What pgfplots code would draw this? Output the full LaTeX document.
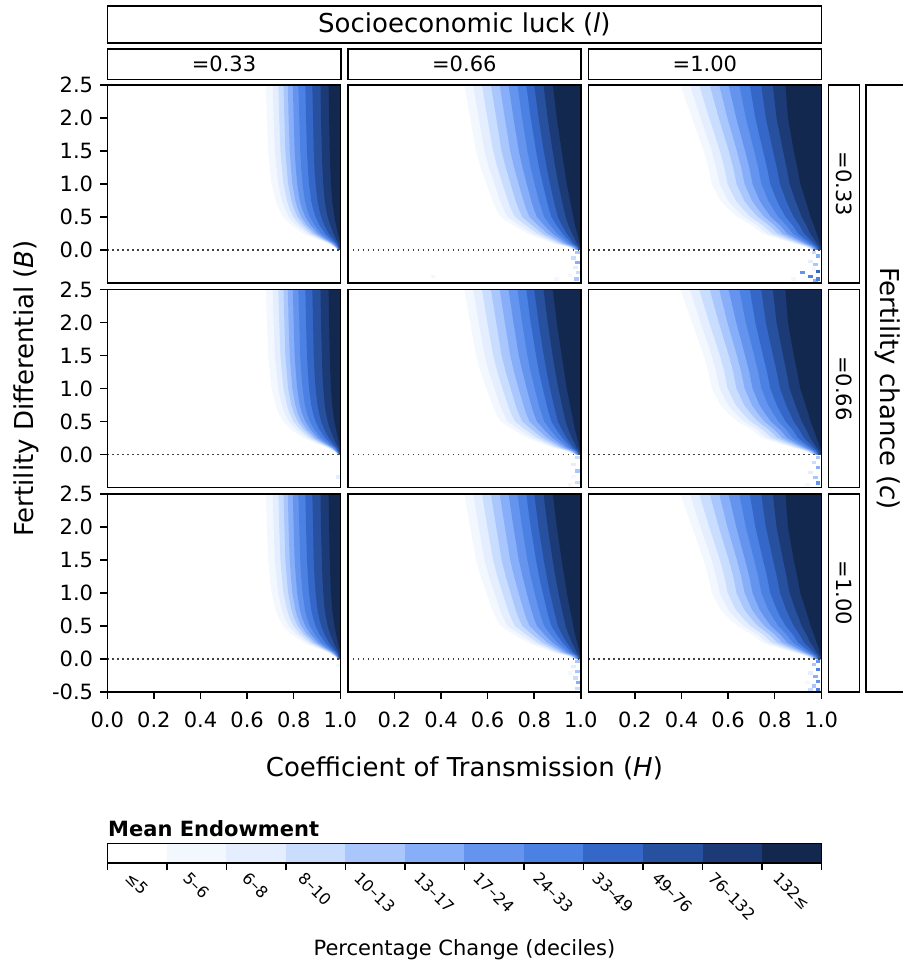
\documentclass[border=0pt]{standalone}
\usepackage{pgfplots}
\pgfplotsset{compat=1.18}
\usepackage{pgfplotstable}
\usepackage{fontspec}
\setmainfont{DejaVu Sans}
\usepackage{graphicx}

\definecolor{L2}{HTML}{F3F8FF}
\definecolor{L3}{HTML}{E4EEFF}
\definecolor{L4}{HTML}{C9DDFE}
\definecolor{L5}{HTML}{AAC7FD}
\definecolor{L6}{HTML}{87AEF8}
\definecolor{L7}{HTML}{6594EE}
\definecolor{L8}{HTML}{4A81E3}
\definecolor{L9}{HTML}{3467C7}
\definecolor{L10}{HTML}{27509F}
\definecolor{L11}{HTML}{1C3A76}
\definecolor{L12}{HTML}{12284E}

\pgfdeclareplotmark{cell}{\pgfpathrectangle{\pgfqpoint{-2.35pt}{-1.65pt}}{\pgfqpoint{4.7pt}{3.3pt}}\pgfusepathqfill}

% left edge of each colour level, l = 0.33
\pgfplotstableread{
B     b2    b3    b4    b5    b6    b7    b8    b9    b10   b11   b12
0.000 0.990 0.991 0.992 0.993 0.994 0.994 0.995 0.996 0.997 0.999 1.000
0.050 0.970 0.973 0.976 0.978 0.981 0.983 0.986 0.989 0.992 0.996 1.000
0.100 0.945 0.951 0.956 0.960 0.964 0.969 0.974 0.980 0.986 0.993 1.000
0.175 0.890 0.902 0.911 0.919 0.927 0.935 0.945 0.956 0.968 0.981 0.995
0.250 0.840 0.857 0.870 0.882 0.893 0.905 0.918 0.935 0.951 0.971 0.990
0.375 0.790 0.811 0.828 0.844 0.857 0.873 0.890 0.911 0.932 0.957 0.982
0.500 0.755 0.779 0.799 0.817 0.832 0.850 0.869 0.894 0.918 0.946 0.975
0.625 0.735 0.761 0.782 0.801 0.817 0.836 0.857 0.883 0.909 0.939 0.970
0.750 0.722 0.749 0.771 0.790 0.807 0.826 0.848 0.875 0.902 0.933 0.965
1.000 0.705 0.733 0.756 0.776 0.794 0.815 0.838 0.866 0.894 0.927 0.960
1.250 0.697 0.726 0.749 0.770 0.788 0.809 0.832 0.861 0.889 0.923 0.957
1.500 0.690 0.719 0.743 0.764 0.783 0.804 0.828 0.857 0.886 0.921 0.955
2.000 0.685 0.714 0.738 0.760 0.778 0.800 0.824 0.853 0.883 0.917 0.952
2.500 0.680 0.710 0.734 0.756 0.775 0.796 0.820 0.850 0.880 0.915 0.950
2.500 1 1 1 1 1 1 1 1 1 1 1
0.000 1 1 1 1 1 1 1 1 1 1 1
}\colA

% l = 0.66
\pgfplotstableread{
B     b2    b3    b4    b5    b6    b7    b8    b9    b10   b11   b12
0.000 0.970 0.973 0.976 0.979 0.982 0.985 0.988 0.991 0.994 0.997 1.000
0.050 0.940 0.946 0.952 0.958 0.964 0.970 0.976 0.982 0.987 0.994 1.000
0.100 0.880 0.892 0.903 0.915 0.926 0.938 0.949 0.961 0.971 0.983 0.995
0.175 0.825 0.842 0.858 0.875 0.891 0.908 0.924 0.941 0.955 0.973 0.990
0.250 0.770 0.792 0.813 0.835 0.856 0.878 0.899 0.921 0.940 0.962 0.985
0.375 0.710 0.737 0.763 0.790 0.816 0.843 0.869 0.896 0.919 0.947 0.975
0.500 0.655 0.686 0.718 0.749 0.780 0.812 0.843 0.874 0.902 0.935 0.968
0.625 0.635 0.668 0.700 0.733 0.765 0.798 0.831 0.863 0.893 0.927 0.961
0.750 0.620 0.653 0.687 0.720 0.754 0.787 0.820 0.854 0.884 0.919 0.954
1.000 0.595 0.630 0.664 0.699 0.733 0.768 0.802 0.837 0.868 0.904 0.940
1.250 0.570 0.606 0.642 0.678 0.714 0.750 0.785 0.821 0.854 0.891 0.929
1.500 0.550 0.587 0.624 0.660 0.697 0.734 0.771 0.808 0.841 0.879 0.918
2.000 0.525 0.562 0.599 0.637 0.674 0.711 0.748 0.785 0.819 0.858 0.897
2.500 0.500 0.538 0.576 0.614 0.652 0.690 0.728 0.766 0.800 0.840 0.880
2.500 1 1 1 1 1 1 1 1 1 1 1
0.000 1 1 1 1 1 1 1 1 1 1 1
}\colB

% l = 1.00
\pgfplotstableread{
B     b2    b3    b4    b5    b6    b7    b8    b9    b10   b11   b12
0.000 0.960 0.964 0.967 0.971 0.975 0.978 0.982 0.986 0.991 0.995 1.000
0.050 0.930 0.936 0.943 0.950 0.956 0.962 0.969 0.976 0.984 0.992 1.000
0.100 0.880 0.890 0.901 0.912 0.923 0.933 0.944 0.956 0.969 0.981 0.995
0.175 0.810 0.826 0.842 0.860 0.876 0.892 0.910 0.927 0.947 0.967 0.988
0.250 0.746 0.767 0.788 0.812 0.833 0.854 0.877 0.900 0.926 0.952 0.980
0.375 0.700 0.724 0.748 0.775 0.799 0.823 0.850 0.877 0.906 0.936 0.968
0.500 0.640 0.668 0.697 0.728 0.756 0.784 0.816 0.847 0.882 0.916 0.954
0.625 0.600 0.631 0.662 0.696 0.727 0.758 0.793 0.827 0.865 0.903 0.944
0.750 0.567 0.600 0.633 0.669 0.702 0.735 0.772 0.809 0.849 0.889 0.933
1.000 0.530 0.564 0.598 0.636 0.671 0.705 0.743 0.781 0.823 0.864 0.910
1.250 0.515 0.549 0.584 0.622 0.656 0.691 0.729 0.767 0.809 0.851 0.897
1.500 0.495 0.530 0.565 0.603 0.638 0.673 0.712 0.750 0.793 0.836 0.882
2.000 0.445 0.482 0.519 0.560 0.597 0.635 0.676 0.717 0.762 0.808 0.857
2.500 0.395 0.436 0.476 0.521 0.562 0.602 0.648 0.693 0.742 0.792 0.846
2.500 1 1 1 1 1 1 1 1 1 1 1
0.000 1 1 1 1 1 1 1 1 1 1 1
}\colC

\newcommand{\bands}[1]{%
  \addplot[fill=L2,draw=none] table[x=b2,y=B]{#1};
  \addplot[fill=L3,draw=none] table[x=b3,y=B]{#1};
  \addplot[fill=L4,draw=none] table[x=b4,y=B]{#1};
  \addplot[fill=L5,draw=none] table[x=b5,y=B]{#1};
  \addplot[fill=L6,draw=none] table[x=b6,y=B]{#1};
  \addplot[fill=L7,draw=none] table[x=b7,y=B]{#1};
  \addplot[fill=L8,draw=none] table[x=b8,y=B]{#1};
  \addplot[fill=L9,draw=none] table[x=b9,y=B]{#1};
  \addplot[fill=L10,draw=none] table[x=b10,y=B]{#1};
  \addplot[fill=L11,draw=none] table[x=b11,y=B]{#1};
  \addplot[fill=L12,draw=none] table[x=b12,y=B]{#1};
}
\newcommand{\spk}[2]{\addplot[only marks, mark=cell, color=#1] coordinates {#2};}
\newcommand{\zeroline}{\addplot[black!75, line width=1.5pt, dash pattern=on 1.5pt off 3.5pt] coordinates {(0,0) (1,0)};}

\pgfplotsset{
  panel/.style={
    width=233pt, height=198pt, scale only axis,
    xmin=0, xmax=1, ymin=-0.5, ymax=2.5,
    anchor=north west,
    axis line style={line width=1.6pt},
    tick style={line width=1.5pt, black},
    major tick length=7pt, tick align=outside,
    xtick pos=left, ytick pos=left,
    xtick=\empty, ytick=\empty,
    ticklabel style={font=\fontsize{21}{25}\selectfont},
    xticklabel style={inner sep=0pt, anchor=north, yshift=-13pt},
    yticklabel style={inner sep=0pt, anchor=east, xshift=-7pt},
    clip marker paths=true,
    axis on top,
  },
  lefty/.style={ytick={0,0.5,1,1.5,2,2.5}, yticklabels={0.0,0.5,1.0,1.5,2.0,2.5}},
  leftyb/.style={ytick={-0.5,0,0.5,1,1.5,2,2.5}, yticklabels={-0.5,0.0,0.5,1.0,1.5,2.0,2.5}},
  botx/.style={xtick={0,0.2,0.4,0.6,0.8,1}, xticklabels={0.0,0.2,0.4,0.6,0.8,1.0}},
  botxr/.style={xtick={0.2,0.4,0.6,0.8,1}, xticklabels={0.2,0.4,0.6,0.8,1.0}},
}

\begin{document}
\begin{tikzpicture}
\useasboundingbox (0,0) rectangle (902pt,-966pt);

% ---------- row 1 ----------
\begin{axis}[panel, lefty, at={(107.3pt,-85pt)}]
\bands{\colA}
\zeroline
\end{axis}
\begin{axis}[panel, at={(347.8pt,-85pt)}]
\bands{\colB}
\spk{L2}{(0.954,-0.39) (0.897,-0.44) (0.366,-0.40)}
\spk{L3}{(0.976,-0.27)}
\spk{L4}{(0.968,-0.12) (0.99,-0.34)}
\spk{L5}{(0.986,-0.04) (0.983,-0.44)}
\spk{L6}{(0.986,-0.19)}
\zeroline
\end{axis}
\begin{axis}[panel, at={(588.3pt,-85pt)}]
\bands{\colC}
\spk{L2}{(0.968,-0.29) (0.882,-0.44)}
\spk{L3}{(0.954,-0.17)}
\spk{L4}{(0.968,-0.04)}
\spk{L5}{(0.976,-0.22)}
\spk{L6}{(0.986,-0.09) (0.976,-0.47)}
\spk{L7}{(0.918,-0.34)}
\spk{L8}{(0.954,-0.40) (0.986,-0.44)}
\spk{L9}{(0.986,-0.33)}
\zeroline
\end{axis}

% ---------- row 2 ----------
\begin{axis}[panel, lefty, at={(107.3pt,-289.5pt)}]
\bands{\colA}
\spk{L3}{(0.99,-0.34)}
\zeroline
\end{axis}
\begin{axis}[panel, at={(347.8pt,-289.5pt)}]
\bands{\colB}
\spk{L2}{(0.97,-0.33) (0.954,-0.46)}
\spk{L3}{(0.97,-0.15)}
\spk{L4}{(0.986,-0.05) (0.986,-0.42)}
\spk{L5}{(0.986,-0.25)}
\zeroline
\end{axis}
\begin{axis}[panel, at={(588.3pt,-289.5pt)}]
\bands{\colC}
\spk{L2}{(0.94,-0.45)}
\spk{L3}{(0.954,-0.27)}
\spk{L4}{(0.968,-0.12)}
\spk{L5}{(0.986,-0.05) (0.976,-0.35)}
\spk{L6}{(0.986,-0.20)}
\spk{L7}{(0.986,-0.43)}
\zeroline
\end{axis}

% ---------- row 3 ----------
\begin{axis}[panel, leftyb, botx, at={(107.3pt,-494pt)}]
\bands{\colA}
\spk{L2}{(0.99,-0.10)}
\zeroline
\end{axis}
\begin{axis}[panel, botxr, at={(347.8pt,-494pt)}]
\bands{\colB}
\spk{L2}{(0.954,-0.21)}
\spk{L3}{(0.968,-0.11)}
\spk{L4}{(0.976,-0.29) (0.986,-0.45)}
\spk{L5}{(0.986,-0.035) (0.986,-0.19)}
\spk{L6}{(0.99,-0.36)}
\zeroline
\end{axis}
\begin{axis}[panel, botxr, at={(588.3pt,-494pt)}]
\bands{\colC}
\spk{L2}{(0.94,-0.36)}
\spk{L3}{(0.954,-0.21)}
\spk{L4}{(0.954,-0.46)}
\spk{L5}{(0.968,-0.085) (0.968,-0.41)}
\spk{L6}{(0.976,-0.26)}
\spk{L7}{(0.986,-0.035) (0.986,-0.34)}
\spk{L8}{(0.986,-0.16) (0.986,-0.46)}
\zeroline
\end{axis}

% ---------- strips ----------
\begin{scope}[line width=1.6pt]
\draw (107.3pt,-6pt) rectangle (821.5pt,-43.3pt);
\node[font=\fontsize{26}{30}\selectfont, anchor=base] at (464.4pt,-33pt) {Socioeconomic luck (\textit{l})};
\draw (107.3pt,-49.3pt) rectangle (340.7pt,-79.3pt);
\draw (347.8pt,-49.3pt) rectangle (580.7pt,-79.3pt);
\draw (588.3pt,-49.3pt) rectangle (821.5pt,-79.3pt);
\node[font=\fontsize{21}{25}\selectfont] at (224pt,-64.3pt) {=0.33};
\node[font=\fontsize{21}{25}\selectfont] at (464.3pt,-64.3pt) {=0.66};
\node[font=\fontsize{21}{25}\selectfont] at (704.9pt,-64.3pt) {=1.00};
\draw (828.5pt,-85pt) rectangle (859.3pt,-283pt);
\draw (828.5pt,-289.5pt) rectangle (859.3pt,-487.5pt);
\draw (828.5pt,-494pt) rectangle (859.3pt,-692pt);
\node[font=\fontsize{21}{25}\selectfont, rotate=-90] at (844pt,-184pt) {=0.33};
\node[font=\fontsize{21}{25}\selectfont, rotate=-90] at (844pt,-388.5pt) {=0.66};
\node[font=\fontsize{21}{25}\selectfont, rotate=-90] at (844pt,-593pt) {=1.00};
\draw (866pt,-85pt) rectangle (920pt,-692pt);
\node[font=\fontsize{26}{30}\selectfont, rotate=-90] at (888pt,-388.5pt) {Fertility chance (\textit{c})};
\end{scope}

% ---------- axis labels ----------
\node[font=\fontsize{26}{30}\selectfont, rotate=90] at (26pt,-388.5pt) {Fertility Differential (\textit{B})};
\node[font=\fontsize{26}{30}\selectfont, anchor=base] at (464.4pt,-776pt) {Coefficient of Transmission (\textit{H})};

% ---------- colour bar ----------
\node[font=\fontsize{21}{25}\selectfont\bfseries, anchor=base west, inner sep=0pt] at (108pt,-836pt) {Mean Endowment};
\foreach \c [count=\i from 0] in {white,L2,L3,L4,L5,L6,L7,L8,L9,L10,L11,L12} {
  \fill[\c] ({107.3pt+\i*59.52pt},-843.3pt) rectangle ({107.3pt+(\i+1)*59.52pt},-862.7pt);
}
\draw[line width=1.6pt] (107.3pt,-843.3pt) rectangle (821.5pt,-862.7pt);
\foreach \i in {0,...,12} {
  \draw[line width=1.4pt] ({107.3pt+\i*59.52pt},-862.7pt) -- ({107.3pt+\i*59.52pt},-869.5pt);
}
\foreach \t [count=\i from 0] in {≤5,5–6,6–8,8–10,10–13,13–17,17–24,24–33,33–49,49–76,76–132,132≤} {
  \node[anchor=north, inner sep=0pt, font=\fontsize{16}{19}\selectfont] at ({107.3pt+(\i+0.5)*59.52pt},-871pt) {\rotatebox{-45}{\t}};
}
\node[font=\fontsize{21}{25}\selectfont, anchor=base] at (464.4pt,-955.5pt) {Percentage Change (deciles)};
\end{tikzpicture}
\end{document}
